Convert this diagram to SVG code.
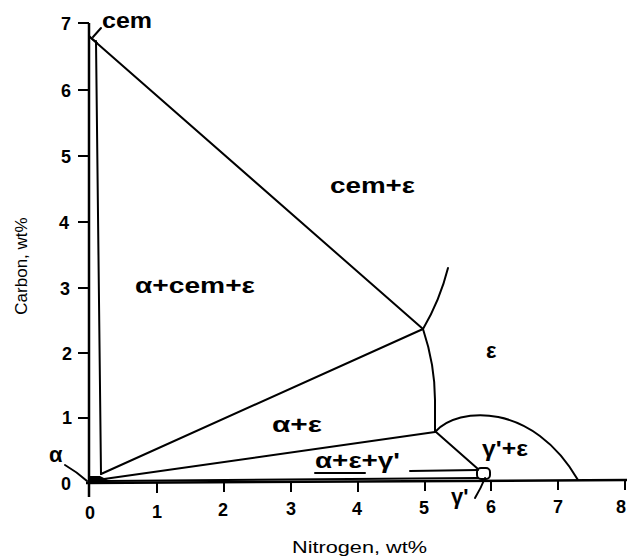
<svg xmlns="http://www.w3.org/2000/svg" width="627" height="559" viewBox="0 0 627 559">
<style>
.ln{fill:none;stroke:#000;stroke-width:2;stroke-linecap:round;stroke-linejoin:round}
.ax{fill:none;stroke:#000;stroke-width:2.5}
.tk{fill:none;stroke:#000;stroke-width:2}
.num{font-family:"Liberation Sans",Arial,sans-serif;font-size:18px;font-weight:bold;text-anchor:middle;fill:#000}
.lab{font-family:"Liberation Sans",Arial,sans-serif;font-size:22px;font-weight:bold;fill:#000}
.ttl{font-family:"Liberation Sans",Arial,sans-serif;font-size:17px;fill:#000}
</style>
<rect width="627" height="559" fill="#fff"/>
<g id="axes">
<path class="ax" d="M89,23 V497"/>
<path class="ax" d="M86,483 L627,480"/>
<path class="tk" d="M78,23H89 M78,90H89 M78,156H89 M78,222H89 M78,288H89 M78,353H89 M78,418H89"/>
<path class="tk" d="M157,483V493 M224,482V492 M291,482V492 M358,482V492 M425,481V491 M491,481V491 M558,480V490 M625,480V490"/>
<text class="num" x="66" y="30">7</text>
<text class="num" x="66" y="97">6</text>
<text class="num" x="66" y="163">5</text>
<text class="num" x="64" y="229">4</text>
<text class="num" x="65" y="295">3</text>
<text class="num" x="67" y="360">2</text>
<text class="num" x="67" y="424">1</text>
<text class="num" x="66" y="490">0</text>
<text class="num" x="90" y="519">0</text>
<text class="num" x="157" y="518">1</text>
<text class="num" x="223" y="516">2</text>
<text class="num" x="291" y="515">3</text>
<text class="num" x="357" y="515">4</text>
<text class="num" x="424" y="514">5</text>
<text class="num" x="491" y="513">6</text>
<text class="num" x="558" y="513">7</text>
<text class="num" x="621" y="513">8</text>
<text class="ttl" x="292" y="553" textLength="135" lengthAdjust="spacingAndGlyphs">Nitrogen, wt%</text>
<text class="ttl" transform="translate(27,266) rotate(-90)" text-anchor="middle" font-size="16">Carbon, wt%</text>
</g>
<g id="boundaries">
<path class="ln" stroke-width="3" d="M96,41 L101,474"/>
<path class="ln" d="M89,36 L97,43"/>
<path class="ln" d="M91,38 L423,329"/>
<path class="ln" d="M101,474 L423,329"/>
<path class="ln" d="M423,329 Q440,300 448,268"/>
<path class="ln" d="M423,329 C430,350 435,375 435,400 L435,432"/>
<path class="ln" d="M104,479 L435,432"/>
<path class="ln" d="M435,432 C458,406 533,402 578,480"/>
<path class="ln" d="M436,432 L478,469"/>
<path class="ln" stroke-width="1.6" d="M103,481 L478,478"/>
<rect x="477" y="468" width="13" height="11" rx="4" fill="none" stroke="#000" stroke-width="2"/>
<polygon points="89,476 100,476 110,481 89,484" fill="#000"/>
<path class="ln" stroke-width="2.5" d="M410,471 L478,470"/>
<path class="ln" d="M315,473 L365,473"/>
</g>
<g id="leaders">
<path class="ln" d="M101,28 L93,37"/>
<path class="ln" d="M65,465 Q77,472 87,481"/>
<path class="ln" d="M475,498 Q481,488 485,478"/>
</g>
<g id="labels">
<text class="lab" x="102" y="28" textLength="50" lengthAdjust="spacingAndGlyphs">cem</text>
<text class="lab" x="330" y="193" textLength="85" lengthAdjust="spacingAndGlyphs">cem+ε</text>
<text class="lab" x="135" y="293" textLength="120" lengthAdjust="spacingAndGlyphs">α+cem+ε</text>
<text class="lab" x="486" y="358">ε</text>
<text class="lab" x="272" y="432" textLength="50" lengthAdjust="spacingAndGlyphs">α+ε</text>
<text class="lab" x="315" y="468" textLength="85" lengthAdjust="spacingAndGlyphs">α+ε+γ'</text>
<text class="lab" x="482" y="456" textLength="46" lengthAdjust="spacingAndGlyphs">γ'+ε</text>
<text class="lab" x="451" y="504">γ'</text>
<text class="lab" x="49" y="462">α</text>
</g>
</svg>
